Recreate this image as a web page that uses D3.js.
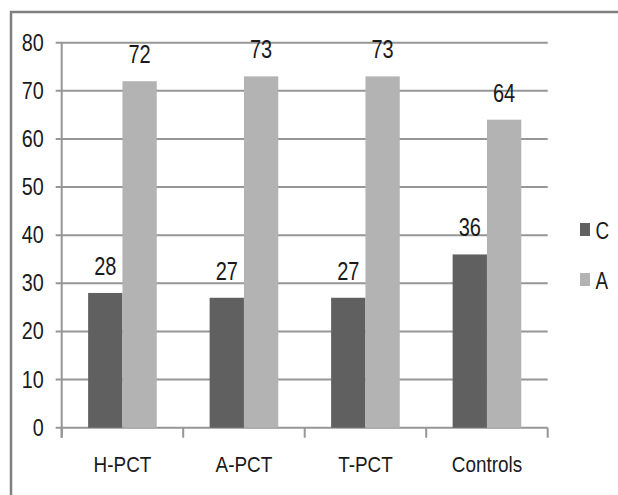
<!DOCTYPE html>
<html><head><meta charset="utf-8">
<script src="https://cdn.jsdelivr.net/npm/d3@7"></script>
<style>
html,body{margin:0;padding:0;background:#fff;}
svg{display:block;}
text{font-family:"Liberation Sans",Arial,sans-serif;fill:#1a1a1a;}
</style></head>
<body>
<script>
const categories = ["H-PCT","A-PCT","T-PCT","Controls"];
const seriesNames = ["C","A"];
const valuesC = [28,27,27,36];
const valuesA = [72,73,73,64];
const yTicks = [0,10,20,30,40,50,60,70,80];
const colors = ["#606060","#b3b3b3"];

const W=618,H=495;
const svg=d3.select("body").append("svg").attr("width",W).attr("height",H);

// outer border
svg.append("rect").attr("x",11).attr("y",12).attr("width",W+20).attr("height",H+20)
  .attr("fill","#fff").attr("stroke","#7f7f7f").attr("stroke-width",2.5);

const pL=61.7,pR=547.7,pT=42.7,pB=427.7;
const y=d3.scaleLinear().domain([0,80]).range([pB,pT]);
const x=d3.scaleBand().domain(categories).range([pL,pR]).padding(0);
const groupW=x.bandwidth()*0.565;
const xs=d3.scaleBand().domain(seriesNames).range([0,groupW]).padding(0);

// gridlines + y ticks
svg.append("g").selectAll("line").data(yTicks).join("line")
  .attr("x1",pL-6).attr("x2",pR)
  .attr("y1",d=>y(d)).attr("y2",d=>y(d))
  .attr("stroke","#969696").attr("stroke-width",2);

// y axis line
svg.append("line").attr("x1",pL).attr("x2",pL).attr("y1",pT).attr("y2",pB+10)
  .attr("stroke","#969696").attr("stroke-width",2);

// x ticks
const tickXs=categories.map(c=>x(c)).concat([pR]);
svg.append("g").selectAll("line").data(tickXs).join("line")
  .attr("x1",d=>d).attr("x2",d=>d)
  .attr("y1",pB).attr("y2",pB+10)
  .attr("stroke","#969696").attr("stroke-width",2);

// y tick labels
svg.append("g").selectAll("text").data(yTicks).join("text")
  .attr("transform",d=>`translate(${pL-18},${y(d)+8}) scale(0.86,1)`)
  .attr("text-anchor","end").attr("font-size",23).text(d=>d);

// bars
const data=categories.map((c,i)=>({cat:c,vals:[{s:"C",v:valuesC[i]},{s:"A",v:valuesA[i]}]}));
const g=svg.append("g").selectAll("g").data(data).join("g")
  .attr("transform",d=>`translate(${x(d.cat)+(x.bandwidth()-groupW)/2},0)`);
g.selectAll("rect").data(d=>d.vals).join("rect")
  .attr("x",d=>xs(d.s)).attr("width",xs.bandwidth())
  .attr("y",d=>y(d.v)).attr("height",d=>y(0)-y(d.v))
  .attr("fill",(d,i)=>colors[i]);
g.selectAll("text").data(d=>d.vals).join("text")
  .attr("transform",d=>`translate(${xs(d.s)+xs.bandwidth()/2},${y(d.v)-18}) scale(0.8,1)`)
  .attr("text-anchor","middle").attr("font-size",25).text(d=>d.v);

// category labels
svg.append("g").selectAll("text").data(categories).join("text")
  .attr("transform",d=>`translate(${x(d)+x.bandwidth()/2},472) scale(0.86,1)`)
  .attr("text-anchor","middle").attr("font-size",22).text(d=>d);

// legend
const leg=svg.append("g").selectAll("g").data(seriesNames).join("g")
  .attr("transform",(d,i)=>`translate(580,${223+i*50})`);
leg.append("rect").attr("width",10).attr("height",13).attr("fill",(d,i)=>colors[i]);
leg.append("text").attr("transform","translate(15.5,15.5) scale(0.82,1)").attr("font-size",23).text(d=>d);
</script>
</body></html>
